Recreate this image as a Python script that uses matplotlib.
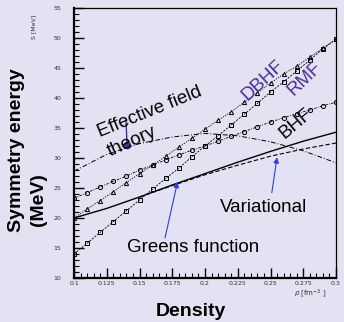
import matplotlib
matplotlib.use("Agg")
import matplotlib.pyplot as plt
from matplotlib.ticker import MultipleLocator

# ---------------- data ----------------
rho_pts = [0.10, 0.11, 0.12, 0.13, 0.14, 0.15, 0.16, 0.17, 0.18, 0.19, 0.20,
           0.21, 0.22, 0.23, 0.24, 0.25, 0.26, 0.27, 0.28, 0.29, 0.30]
rmf_squares = [14.0, 15.8, 17.6, 19.4, 21.2, 23.0, 24.8, 26.6, 28.3, 30.2, 32.0,
               33.7, 35.5, 37.3, 39.1, 41.0, 42.7, 44.5, 46.3, 48.2, 49.8]
dbhf_triangles = [20.0, 21.5, 22.9, 24.4, 25.9, 27.4, 28.8, 30.3, 31.8, 33.3, 34.8,
                  36.3, 37.7, 39.3, 40.9, 42.5, 44.0, 45.3, 46.8, 48.3, 49.8]
bhf_circles = [23.3, 24.2, 25.2, 26.1, 27.0, 28.0, 28.8, 29.7, 30.5, 31.3, 32.0,
               32.8, 33.6, 34.4, 35.2, 36.0, 36.7, 37.4, 38.0, 38.7, 39.3]

rho_eft = [0.100, 0.125, 0.150, 0.175, 0.200, 0.225, 0.250, 0.275, 0.300]
eft = [27.8, 30.6, 32.4, 33.5, 34.1, 33.7, 32.7, 31.2, 29.2]

rho_green = [0.100, 0.125, 0.150, 0.175, 0.200, 0.225, 0.250, 0.275, 0.300]
greens = [20.0, 21.6, 23.5, 25.5, 27.4, 29.3, 31.1, 32.8, 34.3]

rho_var = [0.150, 0.175, 0.200, 0.225, 0.250, 0.275, 0.300]
variational = [23.5, 25.4, 27.2, 28.8, 30.3, 31.5, 32.5]

x_ticks = [0.1, 0.125, 0.15, 0.175, 0.2, 0.225, 0.25, 0.275, 0.3]
x_tick_labels = ["0.1", "0.125", "0.15", "0.175", "0.2", "0.225", "0.25", "0.275", "0.3"]
y_ticks = [10, 15, 20, 25, 30, 35, 40, 45, 50, 55]

# ---------------- style ----------------
BG = "#e2e2f2"
PURPLE = "#4a2d98"
BLUE = "#2a3ee0"
plt.rcParams['font.family'] = ['Liberation Sans', 'DejaVu Sans']

fig = plt.figure(figsize=(3.44, 3.22), dpi=100, facecolor=BG)
ax = fig.add_axes([74/344, 1-278/322, 262/344, 270/322])
ax.set_facecolor(BG)

ms = 3.0
ax.plot(rho_pts, rmf_squares, color='k', lw=0.6, ls=(0, (2.5, 1.5)),
        marker='s', ms=ms, mfc='none', mec='k', mew=0.7)
ax.plot(rho_pts, dbhf_triangles, color='k', lw=0.6, ls=(0, (1.5, 1.5)),
        marker='^', ms=ms, mfc='none', mec='k', mew=0.7)
ax.plot(rho_pts, bhf_circles, color='k', lw=0.6, ls=(0, (3, 1.5, 1, 1.5)),
        marker='o', ms=ms, mfc='none', mec='k', mew=0.7)
ax.plot(rho_eft, eft, color='k', lw=0.7, ls=(0, (5, 2, 1, 2)))
ax.plot(rho_green, greens, color='k', lw=1.0, ls='-')
ax.plot(rho_var, variational, color='k', lw=0.8, ls=(0, (4, 2)))

ax.set_xlim(0.1, 0.3)
ax.set_ylim(10, 55)
ax.set_xticks(x_ticks)
ax.set_xticklabels(x_tick_labels)
ax.set_yticks(y_ticks)
ax.xaxis.set_minor_locator(MultipleLocator(0.005))
ax.yaxis.set_minor_locator(MultipleLocator(1))
ax.tick_params(which='major', direction='in', length=7, width=1.0, labelsize=4.5,
               labelcolor='#333333', top=False, right=False)
ax.tick_params(which='minor', direction='in', length=3.5, width=0.8, top=False, right=False)
ax.tick_params(axis='y', which='major', pad=9)
ax.tick_params(axis='x', which='major', pad=2.5)
for lab in ax.get_xticklabels() + ax.get_yticklabels():
    lab.set_family('DejaVu Sans')

ax.spines['left'].set_linewidth(1.6)
ax.spines['bottom'].set_linewidth(1.6)
ax.spines['top'].set_linewidth(0.9)
ax.spines['right'].set_linewidth(0.9)

# ---------------- annotations ----------------
fs = 13.5
ax.text(0.158, 37.6, "Effective field", fontsize=fs, rotation=22,
        ha='center', va='center', rotation_mode='anchor')
ax.text(0.144, 32.8, "theory", fontsize=fs, rotation=24,
        ha='center', va='center', rotation_mode='anchor')
ax.text(0.244, 43.0, "DBHF", fontsize=fs, rotation=43, color=PURPLE,
        ha='center', va='center', rotation_mode='anchor')
ax.text(0.276, 43.2, "RMF", fontsize=fs, rotation=44, color=PURPLE,
        ha='center', va='center', rotation_mode='anchor')
ax.text(0.2695, 35.7, "BHF", fontsize=fs, rotation=40,
        ha='center', va='center', rotation_mode='anchor')
ax.text(0.245, 21.8, "Variational", fontsize=fs, ha='center', va='center')
ax.text(0.191, 15.0, "Greens function", fontsize=fs, ha='center', va='center')

# arrows
ax.plot([0.1397, 0.1405], [36.2, 32.2], color=PURPLE, lw=1.0)
ax.plot([0.1405], [32.2], marker='o', color=PURPLE, ms=4.5)
ax.annotate("", xy=(0.179, 26.0), xytext=(0.1695, 16.7),
            arrowprops=dict(arrowstyle='-|>', color=BLUE, lw=0.8,
                            mutation_scale=8, shrinkA=0, shrinkB=0))
ax.annotate("", xy=(0.255, 30.1), xytext=(0.251, 24.2),
            arrowprops=dict(arrowstyle='-|>', color=BLUE, lw=0.8,
                            mutation_scale=8, shrinkA=0, shrinkB=0))

# small axis captions
fig.text(34/344, 1-27/322, "S [MeV]", fontsize=4.5, rotation=90,
         ha='center', va='center', color='#333333', family='DejaVu Sans')
fig.text(310/344, 1-294/322, r"$\rho$ [fm$^{-3}$ ]", fontsize=5,
         ha='center', va='center', color='#333333', family='DejaVu Sans')

# main axis labels
fig.text(17/344, 1-150/322, "Symmetry energy", fontsize=14, fontweight='bold',
         rotation=90, ha='center', va='center')
fig.text(38/344, 1-200/322, "(MeV)", fontsize=14, fontweight='bold',
         rotation=90, ha='center', va='center')
fig.text(191/344, 1-311/322, "Density", fontsize=14, fontweight='bold',
         ha='center', va='center')

fig.savefig("out.png", dpi=100, facecolor=BG)
